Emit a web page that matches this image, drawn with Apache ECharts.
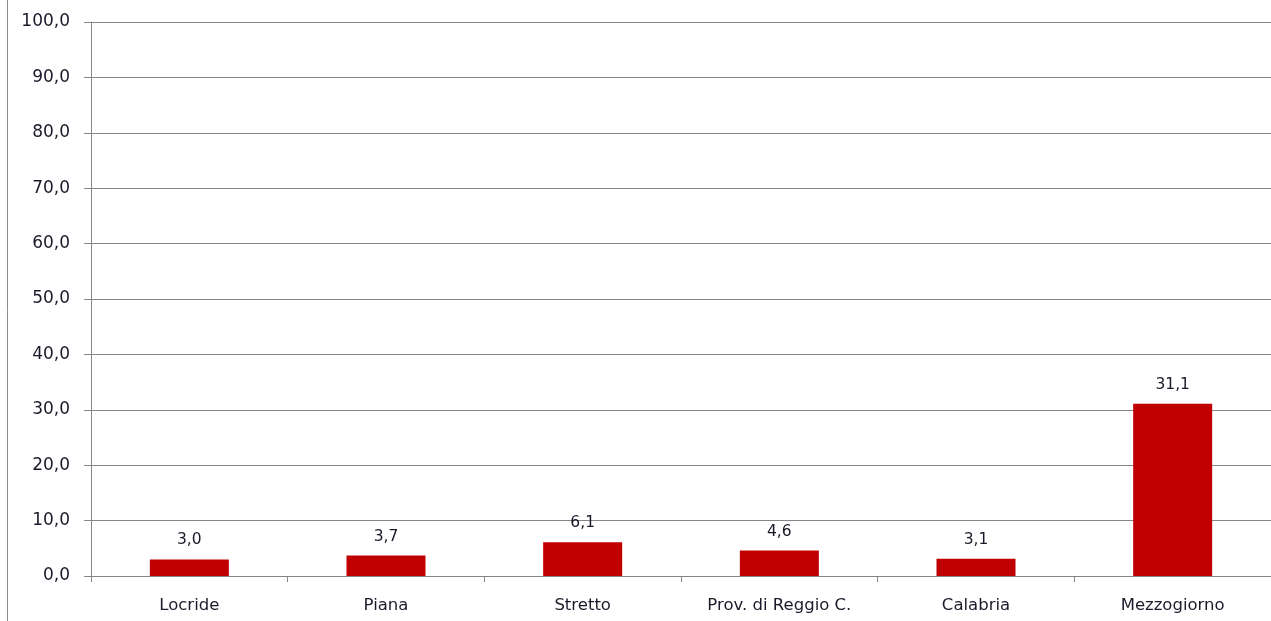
<!DOCTYPE html>
<html><head><meta charset="utf-8">
<script src="https://cdn.jsdelivr.net/npm/echarts@6/dist/echarts.min.js"></script>
<style>html,body{margin:0;padding:0;background:#fff}#c{width:1271px;height:621px}</style>
</head><body><div id="c"></div>
<script>
const categories = ['Locride', 'Piana', 'Stretto', 'Prov. di Reggio C.', 'Calabria', 'Mezzogiorno'];
const values = [3.0, 3.7, 6.1, 4.6, 3.1, 31.1];
const yMin = 0, yMax = 100, yStep = 10;

const fmt = v => v.toFixed(1).replace('.', ',');
const chart = echarts.init(document.getElementById('c'), null, {renderer: 'canvas'});
chart.setOption({
  animation: false,
  textStyle: {fontFamily: 'DejaVu Sans'},
  grid: {left: 91, top: 22, width: 1184, height: 554, containLabel: false},
  graphic: [{type: 'line', shape: {x1: 7.5, y1: 0, x2: 7.5, y2: 621}, style: {stroke: '#8c8c8c', lineWidth: 1}}],
  xAxis: {
    type: 'category', data: categories,
    axisLine: {lineStyle: {color: '#868686'}},
    axisTick: {show: true, alignWithLabel: false, length: 6, lineStyle: {color: '#868686'}},
    axisLabel: {color: '#1a1a2a', fontSize: 16.5, margin: 21, fontFamily: 'DejaVu Sans'}
  },
  yAxis: {
    type: 'value', min: yMin, max: yMax, interval: yStep,
    axisLine: {show: true, lineStyle: {color: '#868686'}},
    axisTick: {show: true, length: 7, lineStyle: {color: '#868686'}},
    splitLine: {lineStyle: {color: '#868686'}},
    axisLabel: {color: '#1a1a2a', fontSize: 17, margin: 21, padding: [4, 0, 0, 0], formatter: v => fmt(v), fontFamily: 'DejaVu Sans'}
  },
  series: [{
    type: 'bar', data: values, barWidth: 79,
    itemStyle: {color: '#C00000'},
    label: {show: true, position: 'top', distance: 11, color: '#1a1a2a', fontSize: 15.5, formatter: p => fmt(p.value), fontFamily: 'DejaVu Sans'}
  }]
});
</script></body></html>
